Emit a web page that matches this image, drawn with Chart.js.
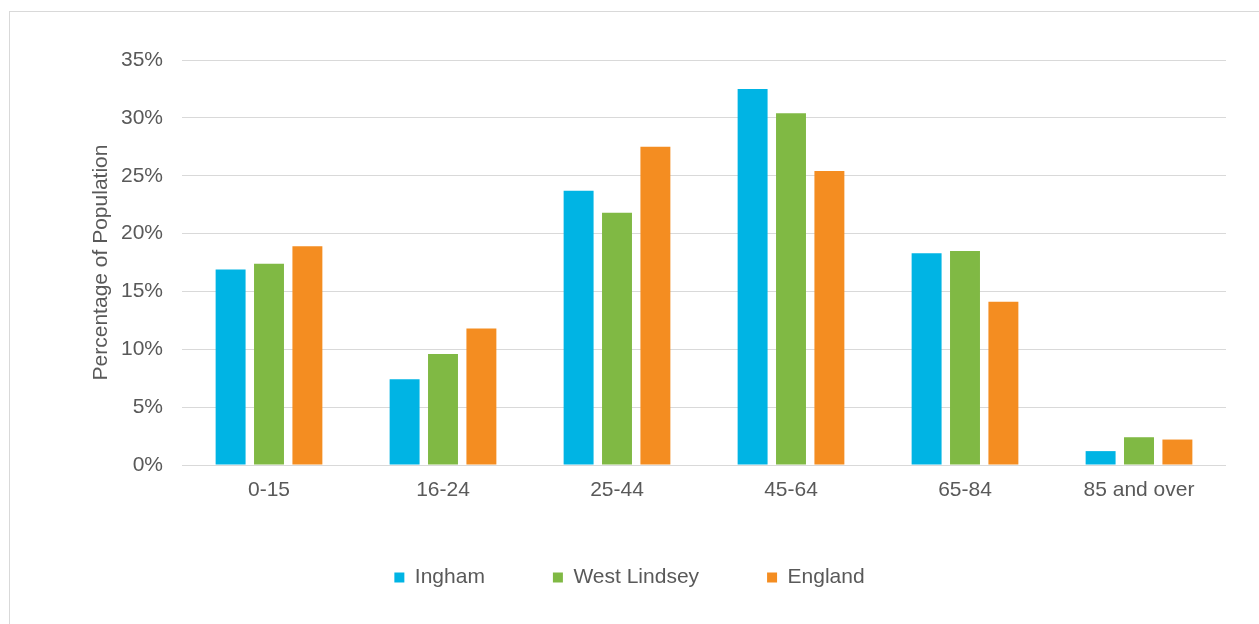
<!DOCTYPE html>
<html>
<head>
<meta charset="utf-8">
<title>Population by age band</title>
<script src="https://cdn.jsdelivr.net/npm/chart.js@4/dist/chart.umd.min.js"></script>
<style>
  html, body { margin: 0; padding: 0; background: #ffffff; overflow: hidden; }
  .frame {
    position: absolute;
    left: 9px;
    top: 11px;
    width: 1300px;
    height: 700px;
    border: 1px solid #d9d9d9;
  }
  .chart-box {
    position: absolute;
    left: 0;
    top: 0;
    width: 1259px;
    height: 624px;
  }
</style>
</head>
<body>
<div class="frame"></div>
<div class="chart-box">
  <canvas id="ageChart" width="1259" height="624"></canvas>
</div>
<script>
// Age bands along the x axis
const ageBands = ['0-15', '16-24', '25-44', '45-64', '65-84', '85 and over'];

// Share of population in each band (percent)
const inghamValues = [16.9, 7.4, 23.7, 32.5, 18.3, 1.2];
const westLindseyValues = [17.4, 9.6, 21.8, 30.4, 18.5, 2.4];
const englandValues = [18.9, 11.8, 27.5, 25.4, 14.1, 2.2];

// Y axis ticks (percent)
const yTickValues = [0, 5, 10, 15, 20, 25, 30, 35];

const seriesNames = ['Ingham', 'West Lindsey', 'England'];
const seriesColors = ['#00b4e4', '#80b944', '#f48d21'];

const textColor = '#595959';
const gridColor = '#d9d9d9';
const fontFamily = '"Liberation Sans", Arial, sans-serif';
const fontSize = 21;

// Legend padding is also used vertically, so nudge the legend up a bit
const legendShift = {
  id: 'legendShift',
  afterLayout(chart) {
    if (!chart.legend) return;
    chart.legend.top -= 4;
    chart.legend.bottom -= 4;
  }
};

function buildDatasets() {
  const values = [inghamValues, westLindseyValues, englandValues];
  return seriesNames.map((name, i) => {
    return {
      label: name,
      data: values[i],
      backgroundColor: seriesColors[i],
      borderWidth: 0,
      categoryPercentage: 0.662,
      barPercentage: 0.78
    };
  });
}

function createChart() {
  const ctx = document.getElementById('ageChart');

  new Chart(ctx, {
    type: 'bar',
    data: {
      labels: ageBands,
      datasets: buildDatasets()
    },
    plugins: [legendShift],
    options: {
      responsive: false,
      animation: false,
      layout: {
        padding: { top: 60, left: 0, right: 0, bottom: 22 }
      },
      plugins: {
        tooltip: { enabled: false },
        title: { display: false },
        legend: {
          position: 'bottom',
          labels: {
            boxWidth: 10,
            boxHeight: 10,
            padding: 68,
            color: textColor,
            font: { family: fontFamily, size: fontSize }
          }
        }
      },
      scales: {
        x: {
          grid: { display: false },
          border: { display: false },
          ticks: {
            color: textColor,
            padding: 5,
            maxRotation: 0,
            font: { family: fontFamily, size: fontSize }
          },
          afterFit: (scale) => { scale.height = 38; }
        },
        y: {
          min: 0,
          max: 35,
          afterBuildTicks: (scale) => {
            scale.ticks = yTickValues.map(v => ({ value: v }));
          },
          grid: { color: gridColor, lineWidth: 1, drawTicks: false },
          border: { display: false },
          ticks: {
            color: textColor,
            padding: 19,
            font: { family: fontFamily, size: fontSize },
            callback: (v) => v + '%'
          },
          title: {
            display: true,
            text: 'Percentage of Population',
            color: textColor,
            padding: { top: 89, bottom: 0 },
            font: { family: fontFamily, size: fontSize }
          },
          afterFit: (scale) => { scale.width = 182; }
        },
        // empty axis on the right, only keeps the plot clear of the edge
        y2: {
          position: 'right',
          display: true,
          grid: { display: false },
          border: { display: false },
          ticks: { display: false },
          afterFit: (scale) => { scale.width = 33; }
        }
      }
    }
  });
}

createChart();
</script>
</body>
</html>
